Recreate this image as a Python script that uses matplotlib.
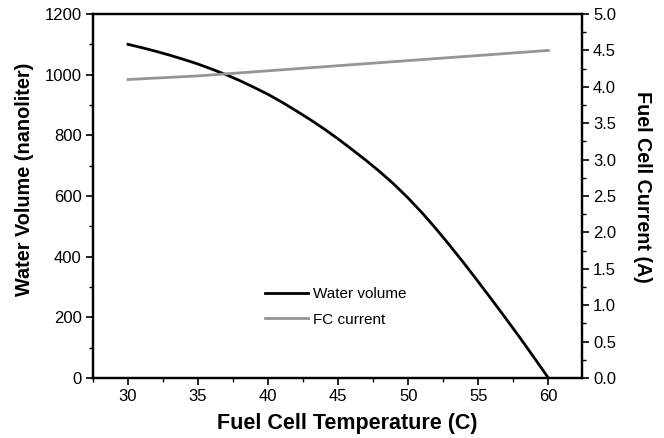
import matplotlib
matplotlib.use("Agg")
import matplotlib.pyplot as plt
from matplotlib.ticker import MultipleLocator

plt.rcParams['font.family'] = ['Liberation Sans', 'DejaVu Sans']

temp = list(range(30, 61))
water_volume = [1100, 1089, 1077, 1064, 1050, 1035, 1018, 1000, 980, 958,
                935, 909, 881, 852, 821, 788, 753, 717, 679, 638,
                593, 544, 491, 435, 377, 317, 256, 194, 131, 66, 0]

temp_fc = [30, 35, 40, 45, 50, 55, 60]
fc_current = [4.10, 4.15, 4.22, 4.29, 4.36, 4.43, 4.50]

fig = plt.figure(figsize=(6.64, 4.38), dpi=100)
ax = fig.add_axes([0.140, 0.137, 0.7365, 0.831])
ax2 = ax.twinx()

l1, = ax.plot(temp, water_volume, color="black", lw=2, label="Water volume")
l2, = ax2.plot(temp_fc, fc_current, color="#959595", lw=2, label="FC current")

ax.set_xlim(27.5, 62.4)
ax.set_ylim(0, 1200)
ax2.set_ylim(0, 5.0)

ax.xaxis.set_major_locator(MultipleLocator(5))
ax.xaxis.set_minor_locator(MultipleLocator(2.5))
ax.yaxis.set_major_locator(MultipleLocator(200))
ax.yaxis.set_minor_locator(MultipleLocator(100))
ax2.yaxis.set_major_locator(MultipleLocator(0.5))
ax2.yaxis.set_minor_locator(MultipleLocator(0.25))
ax2.yaxis.set_major_formatter(lambda v, p: f"{v:.1f}")

for a in (ax, ax2):
    a.tick_params(which="major", direction="out", length=5, width=1.2, labelsize=12, colors="black", pad=3)
    a.tick_params(which="minor", direction="out", length=3, width=1.0)
    for s in a.spines.values():
        s.set_linewidth(1.6)
ax.tick_params(top=False, which="both")

ax.set_xlabel("Fuel Cell Temperature (C)", fontsize=15.5, fontweight="bold", va="center")
ax.xaxis.set_label_coords(0.520, -0.126)
ax.set_ylabel("Water Volume (nanoliter)", fontsize=14.3, fontweight="bold", va="center")
ax.yaxis.set_label_coords(-0.139, 0.547)
ax2.set_ylabel("Fuel Cell Current (A)", fontsize=14.2, fontweight="bold", rotation=270,
               va="center", ha="center")
ax2.yaxis.set_label_coords(1.1227, 0.525)

ax.legend(handles=[l1, l2], frameon=False, fontsize=11, loc="upper left",
          bbox_to_anchor=(0.324, 0.287), handlelength=2.8, labelspacing=0.75, handletextpad=0.35)

fig.savefig("out.png", dpi=100)
